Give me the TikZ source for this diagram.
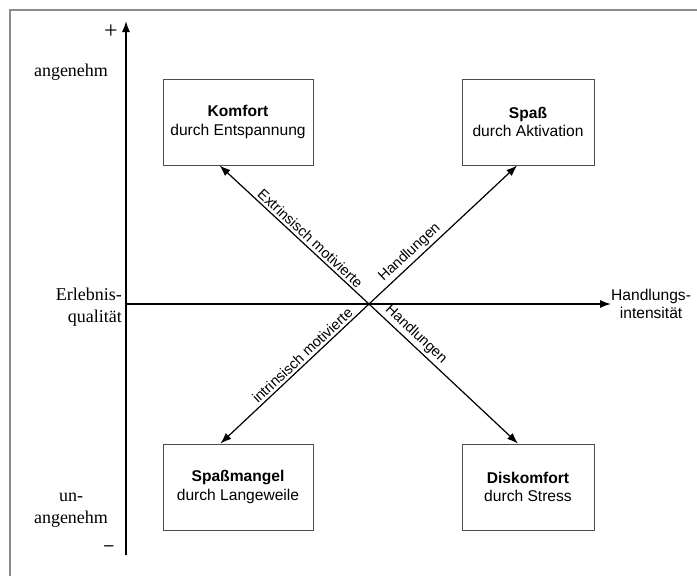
\documentclass[tikz,border=0pt]{standalone}
\usepackage{fontspec}
\setmainfont{Liberation Serif}
\newfontfamily\boxfont{Liberation Sans}
\usetikzlibrary{arrows.meta}

\begin{document}
\begin{tikzpicture}[x=1pt,y=-1pt,
  frameline/.style={draw=black!45, line width=2pt},
  axis/.style={draw=black, line width=1.4pt, -{Latex[length=11pt,width=8pt]}},
  arr/.style={draw=black, line width=1.2pt, -{Latex[length=11pt,width=8pt]}},
  quad/.style={draw=black!70, line width=0.9pt, rectangle, inner sep=0pt,
    minimum height=86pt, align=center,
    font=\boxfont\fontsize{15.6}{18.5}\selectfont},
  axlabel/.style={inner sep=0pt, font=\fontsize{18}{21.5}\selectfont},
  arrlabel/.style={sloped, above, inner sep=2.5pt,
    font=\boxfont\fontsize{14.5}{17}\selectfont},
]
\useasboundingbox (0,0) rectangle (697,576);

% outer frame (top and left edges)
\draw[frameline] (10,576) -- (10,10) -- (697,10);

% coordinate axes
\coordinate (ybot) at (126,555);
\coordinate (ytop) at (126,21);
\coordinate (xleft) at (126,304);
\coordinate (xright) at (611,304);
\coordinate (o) at (369,304);
\draw[axis] (ybot) -- (ytop);
\draw[axis] (xleft) -- (xright);

% axis labels
\node[inner sep=0pt, font=\fontsize{24}{24}\selectfont] (plus) at (111,32) {+};
\node[axlabel] (minus) at (109,548) {\textbf{–}};
\node[axlabel] (ang) at (71,72) {angenehm};
\node[axlabel, align=right, anchor=east] (erl) at (122,307) {Erlebnis-\\qualität};
\node[axlabel, align=center] (unang) at (71,510) {un-\\angenehm};
\node[anchor=west, inner sep=0pt, align=center,
  font=\boxfont\fontsize{15.6}{17.5}\selectfont] (hint) at (xright) {Handlungs-\\intensität};

% quadrant boxes
\node[quad, minimum width=150pt] (kom) at (238,122) {\textbf{Komfort}\\durch Entspannung};
\node[quad, minimum width=132pt] (spass) at (528,122) {\textbf{Spaß}\\durch Aktivation};
\node[quad, minimum width=150pt] (mangel) at (238,487) {\textbf{Spaßmangel}\\durch Langeweile};
\node[quad, minimum width=132pt] (disk) at (528,487) {\textbf{Diskomfort}\\durch Stress};

% diagonal arrows from the origin
\draw[arr] (o) -- node[arrlabel, pos=0.43] {Extrinsisch motivierte} (kom.247.3);
\draw[arr] (o) -- node[arrlabel, pos=0.32] {Handlungen} (spass.256.9);
\draw[arr] (o) -- node[arrlabel, pos=0.41] {intrinsisch motivierte} (mangel.112.7);
\draw[arr] (o) -- node[arrlabel, pos=0.27] {Handlungen} (disk.103);
\end{tikzpicture}
\end{document}
